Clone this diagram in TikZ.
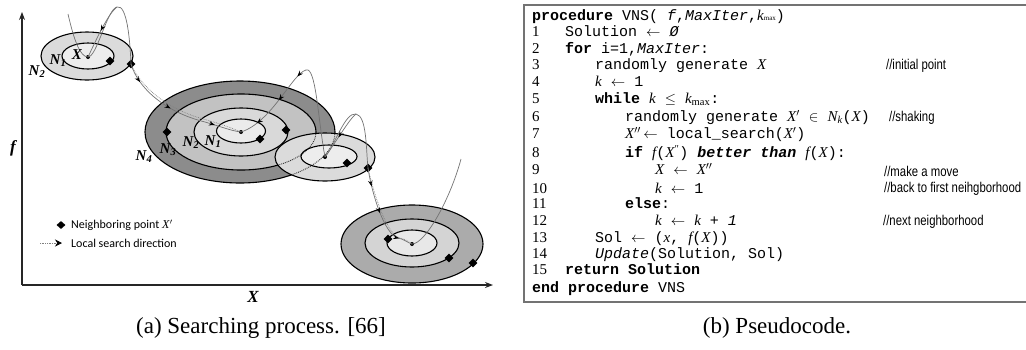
\documentclass[tikz,border=0pt]{standalone}
\usepackage{fontspec}
\setmainfont{Liberation Serif}
\setmonofont{Liberation Mono}
\newfontfamily\legfont{Carlito}
\newfontfamily\cmtfont{Liberation Sans}
\usetikzlibrary{shapes.geometric,arrows.meta,decorations.markings}
\newcommand\cvar[1]{{\rmfamily\itshape #1}}
\tikzset{
  axisline/.style={draw=black!85, line width=1.1pt, -{Stealth[length=8pt,width=6pt]}},
  ring/.style={draw=black, line width=1.1pt},
  dotring/.style={draw=black!80, line width=0.9pt, densely dotted},
  dia/.style={diamond, fill=black, inner sep=0pt, minimum width=9pt, minimum height=9pt},
  dotpt/.style={circle, fill=black, inner sep=0pt, minimum size=4pt},
  srch/.style={draw=black!55, line width=0.7pt},
  srchdot/.style={draw=black!50, line width=0.7pt, densely dotted},
  am/.style={postaction={decorate,decoration={markings,mark=at position #1 with {\arrow{Stealth[length=6pt,width=4.5pt,black]}}}}},
  nlab/.style={font=\fontsize{15}{15}\selectfont\bfseries\itshape, inner sep=0pt},
  axlab/.style={font=\fontsize{17}{17}\selectfont\bfseries\itshape, inner sep=0pt},
  leg/.style={anchor=west, inner sep=0pt, font=\fontsize{12}{14}\legfont},
  code/.style={anchor=west, inner sep=0pt, text height=10pt, text depth=3pt, font=\fontsize{15}{17}\ttfamily},
  num/.style={anchor=west, inner sep=0pt, text height=10pt, text depth=3pt, font=\fontsize{15}{17}\rmfamily},
  cmt/.style={anchor=west, inner sep=0pt, xscale=0.8, text height=10pt, text depth=3pt, font=\fontsize{14.2}{16}\cmtfont},
  captxt/.style={inner sep=0pt, font=\fontsize{23}{27}\selectfont},
  c1/.style={fill=black!14},
  c2/.style={fill=black!7},
}
\begin{document}
\begin{tikzpicture}[x=1pt,y=-1pt]
\useasboundingbox (0,0) rectangle (1026,349);

% ---------- axes ----------
\coordinate (O) at (22,285);
\coordinate (ftop) at (22,12);
\coordinate (xend) at (493,285);
\draw[axisline] (O) -- (ftop);
\draw[axisline] (O) -- (xend);
\node[axlab] (flab) at (13,148) {f};
\node[axlab] (xlab) at (253,297) {X};

% ---------- big ellipse (N1..N4) ----------
\fill[fill=black!45] (240,132) ellipse (95 and 51);
\fill[fill=black!24] (241,132) ellipse (75 and 38);
\fill[fill=black!15] (241,132) ellipse (47 and 24);
\fill[fill=black!8] (241,131) ellipse (24.5 and 12);
\draw[ring] (240,132) ellipse (95 and 51);
\draw[ring] (241,132) ellipse (75 and 38);
\draw[ring] (241,132) ellipse (47 and 24);
\draw[ring] (241,131) ellipse (24.5 and 12);

% ---------- ellipse 3 (overlapping) ----------
\fill[c1] (325,157) ellipse (50 and 24);
\fill[c2] (329,156.5) ellipse (28 and 11.5);
\begin{scope}
  \clip (325,157) ellipse (50 and 24);
  \draw[dotring] (240,132) ellipse (95 and 51);
  \draw[dotring] (241,132) ellipse (75 and 38);
\end{scope}
\draw[ring] (325,157) ellipse (50 and 24);
\draw[ring] (329,156.5) ellipse (28 and 11.5);

% ---------- ellipse 1 ----------
\fill[c1] (87,56) ellipse (46 and 24);
\fill[c2] (88,56) ellipse (26 and 13);
\draw[ring] (87,56) ellipse (46 and 24);
\draw[ring] (88,56) ellipse (26 and 13);

% ---------- ellipse 4 ----------
\fill[fill=black!33] (412,244) ellipse (71 and 39);
\fill[fill=black!17] (412,243) ellipse (47 and 24);
\fill[fill=black!9] (412,243) ellipse (25 and 13);
\draw[ring] (412,244) ellipse (71 and 39);
\draw[ring] (412,243) ellipse (47 and 24);
\draw[ring] (412,243) ellipse (25 and 13);

% ---------- points ----------
\node[dotpt] (X1) at (88,57) {};
\node[dia] (D1a) at (110,61) {};
\node[dia] (D1b) at (131,64) {};
\node[dotpt] (X2) at (241,132) {};
\node[dia] (D2a) at (167,132) {};
\node[dia] (D2b) at (260,139) {};
\node[dia] (D2c) at (286,130) {};
\node[dotpt] (X3) at (325,157) {};
\node[dia] (D3a) at (347,163) {};
\node[dia] (D3b) at (368,168) {};
\node[dotpt] (X4) at (412,244) {};
\node[dia] (D4a) at (388,239) {};
\node[dia] (D4b) at (449,258) {};
\node[dia] (D4c) at (473,263) {};

\coordinate (s1) at (68,14);
\coordinate (pk1) at (117,7);
\coordinate (pk2) at (306,70);
\coordinate (pk3) at (356,114);
\coordinate (e6) at (461,159);

% ---------- search curves ----------
\draw[srch] (s1) .. controls (74,40) and (80,57) .. (X1.center)
  .. controls (97,57) and (107,9) .. (pk1)
  .. controls (127,4) and (130,40) .. (D1b.center);
\draw[srch, am=0.5] (pk1) .. controls (108,14) and (98,36) .. (X1.center);

\draw[srch, am=0.15, am=0.45, am=0.8] (D1b.center) .. controls (138,88) and (165,112) .. (205,122)
  .. controls (222,127) and (232,131) .. (X2.center);
\draw[srchdot, xshift=2pt, yshift=2pt] (D1b.center) .. controls (138,88) and (165,112) .. (205,122)
  .. controls (222,127) and (232,131) .. (X2.center);

\draw[srch, am=0.12, am=0.45, am=0.8] (pk2) .. controls (292,74) and (272,122) .. (X2.center);
\draw[srch] (pk2) .. controls (316,66) and (318,120) .. (X3.center);

\draw[srch] (X3.center) .. controls (335,145) and (345,112) .. (pk3)
  .. controls (367,116) and (366,150) .. (D3b.center);
\draw[srch, am=0.55] (pk3) .. controls (350,118) and (336,142) .. (X3.center);

\draw[srch, am=0.2, am=0.5, am=0.85] (D3b.center) .. controls (372,195) and (385,235) .. (398,238)
  .. controls (404,239) and (408,243) .. (X4.center);
\draw[srchdot, xshift=2pt] (D3b.center) .. controls (372,195) and (385,235) .. (398,238)
  .. controls (404,239) and (408,243) .. (X4.center);
\draw[srch] (X4.center) .. controls (425,244) and (450,200) .. (e6);

% ---------- labels ----------
\node[nlab] (lX) at (77,55) {X};
\node[nlab] (lN1a) at (58,61) {N\textsubscript{1}};
\node[nlab] (lN2a) at (37,72) {N\textsubscript{2}};
\node[nlab] (lN1b) at (213,142) {N\textsubscript{1}};
\node[nlab] (lN2b) at (191,143) {N\textsubscript{2}};
\node[nlab] (lN3b) at (168,150) {N\textsubscript{3}};
\node[nlab] (lN4b) at (144,157) {N\textsubscript{4}};

% ---------- legend ----------
\node[dia, minimum width=9pt, minimum height=8pt] (ld) at (61,225) {};
\node[leg] (lt1) at (71,225) {Neighboring point \textit{\rmfamily X}$'$};
\coordinate (la) at (40,243);
\coordinate (lb) at (62,243);
\draw[srchdot, -{Stealth[length=7pt,width=7pt,black]}] (la) -- (lb);
\node[leg] (lt2) at (71,243) {Local search direction};

% ---------- pseudocode box ----------
\draw[draw=black!55, line width=1.3pt] (1026,5) -- (524,5) -- (524,302) -- (1026,302);

\node[code] (p0) at (532,17) {\textbf{procedure} VNS( \textit{f},\textit{MaxIter},\cvar{k}{\rmfamily\scriptsize max})};
\node[num] (n1) at (532,33) {1};
\node[code] (l1) at (565,33) {Solution $\leftarrow$ \textit{Ø}};
\node[num] (n2) at (532,50) {2};
\node[code] (l2) at (565,50) {\textbf{for} i=1,\textit{MaxIter}:};
\node[num] (n3) at (532,66) {3};
\node[code] (l3) at (595,66) {randomly generate \cvar{X}};
\node[num] (n4) at (532,83) {4};
\node[code] (l4) at (595,83) {\cvar{k} $\leftarrow$ 1};
\node[num] (n5) at (532,100) {5};
\node[code] (l5) at (595,100) {\textbf{while} \cvar{k} $\le$ \cvar{k}\textsubscript{\rmfamily max}:};
\node[num] (n6) at (532,118) {6};
\node[code] (l6) at (625,118) {randomly generate \cvar{X}$'$ $\in$ \cvar{N}\textsubscript{\cvar{k}}(\cvar{X})};
\node[num] (n7) at (532,135) {7};
\node[code] (l7) at (625,135) {\cvar{X}$''$\,$\leftarrow$ local\_search(\cvar{X}$'$)};
\node[num] (n8) at (532,154) {8};
\node[code] (l8) at (625,154) {\textbf{if} \cvar{f}(\cvar{X}\textsuperscript{\rmfamily″}) \textbf{\textit{better than}} \cvar{f}(\cvar{X}):};
\node[num] (n9) at (532,171) {9};
\node[code] (l9) at (655,171) {\cvar{X} $\leftarrow$ \cvar{X}$''$};
\node[num] (n10) at (532,190) {10};
\node[code] (l10) at (655,190) {\cvar{k} $\leftarrow$ 1};
\node[num] (n11) at (532,205) {11};
\node[code] (l11) at (625,205) {\textbf{else}:};
\node[num] (n12) at (532,222) {12};
\node[code] (l12) at (655,222) {\cvar{k} $\leftarrow$ \cvar{k} + \textit{1}};
\node[num] (n13) at (532,239) {13};
\node[code] (l13) at (595,239) {Sol $\leftarrow$ (\cvar{x}, \cvar{f}(\cvar{X}))};
\node[num] (n14) at (532,255) {14};
\node[code] (l14) at (595,255) {\textit{Update}(Solution, Sol)};
\node[num] (n15) at (532,271) {15};
\node[code] (l15) at (565,271) {\textbf{return Solution}};
\node[code] (lend) at (532,289) {\textbf{end procedure} VNS};

\node[cmt] (c3) at (886,66) {//initial point};
\node[cmt] (c6) at (889,118) {//shaking};
\node[cmt] (c9) at (884,173) {//make a move};
\node[cmt] (c10) at (884,189) {//back to first neihgborhood};
\node[cmt] (c12) at (883,222) {//next neighborhood};

% ---------- captions ----------
\node[captxt] (capa) at (261,328) {(a) Searching process. [66]};
\node[captxt] (capb) at (777,328) {(b) Pseudocode.};
\end{tikzpicture}
\end{document}
